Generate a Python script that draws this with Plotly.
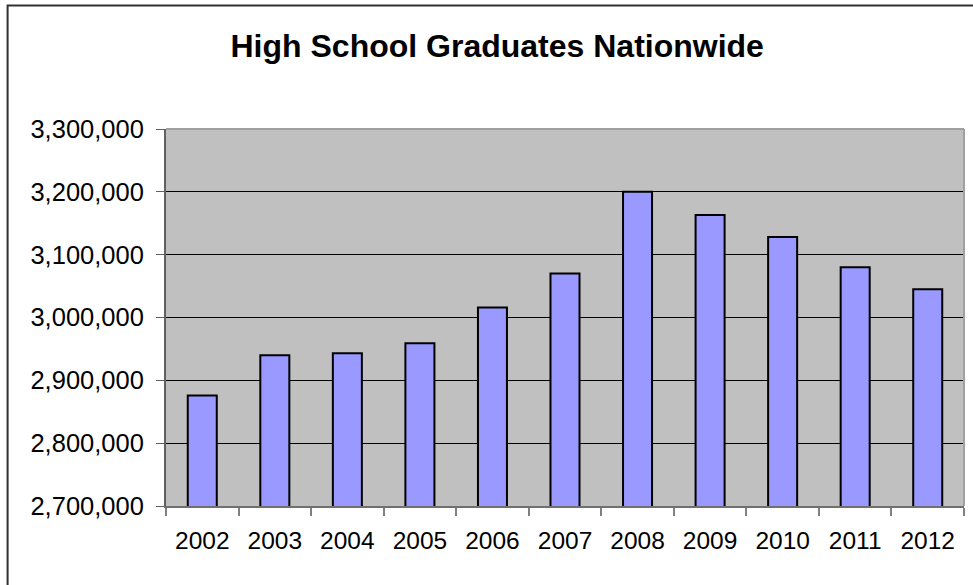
import plotly.graph_objects as go

# High school graduates per year (class of)
years = ["2002", "2003", "2004", "2005", "2006", "2007",
         "2008", "2009", "2010", "2011", "2012"]
graduates = [2876000, 2940000, 2943000, 2959000, 3016000, 3070000,
             3200000, 3163000, 3128000, 3080000, 3045000]

y_ticks = [2700000, 2800000, 2900000, 3000000, 3100000, 3200000, 3300000]
y_tick_labels = ["2,700,000", "2,800,000", "2,900,000", "3,000,000",
                 "3,100,000", "3,200,000", "3,300,000"]

FONT = "Liberation Sans, Arial, sans-serif"

fig = go.Figure(
    go.Bar(
        x=years,
        y=graduates,
        marker=dict(color="#9999FF", line=dict(color="#000000", width=2)),
        hoverinfo="x+y",
    )
)

fig.update_layout(
    width=973,
    height=585,
    margin=dict(l=166, r=9, t=129, b=79),
    paper_bgcolor="#FFFFFF",
    plot_bgcolor="#C0C0C0",
    bargap=0.6,
    showlegend=False,
    title=dict(
        text="<b>High School Graduates Nationwide</b>",
        x=0.511, xanchor="center",
        y=0.922, yanchor="middle",
        font=dict(family=FONT, size=32, color="#000000"),
    ),
    font=dict(family=FONT, size=24, color="#000000"),
)

fig.update_xaxes(
    type="category",
    showgrid=False,
    showline=True, linecolor="#707070", linewidth=2,
    ticks="outside", tickson="boundaries", ticklen=8,
    tickcolor="#808080", tickwidth=2,
    tickfont=dict(family=FONT, size=24.5, color="#000000"),
    ticklabelstandoff=12,
)

fig.update_yaxes(
    range=[2700000, 3300000],
    tickvals=y_ticks,
    ticktext=y_tick_labels,
    showgrid=True, gridcolor="#000000", gridwidth=1,
    zeroline=False,
    showline=True, linecolor="#606060", linewidth=2,
    ticks="outside", ticklen=8, tickcolor="#606060", tickwidth=1,
    tickfont=dict(family=FONT, size=25.5, color="#000000"),
    ticklabelstandoff=7,
)

# Light grey frame on the top and right of the plotting area
fig.add_shape(type="line", xref="paper", yref="paper",
              x0=0, x1=1, y0=1, y1=1,
              line=dict(color="#A0A0A0", width=2))
fig.add_shape(type="line", xref="paper", yref="paper",
              x0=1, x1=1, y0=0, y1=1,
              line=dict(color="#A0A0A0", width=2))

# Outer chart border
fig.add_shape(type="rect", xref="paper", yref="paper",
              x0=-0.1985, x1=1.05, y0=-0.3, y1=1.3275,
              line=dict(color="#303030", width=2),
              layer="above")

fig.write_html("out.html")
